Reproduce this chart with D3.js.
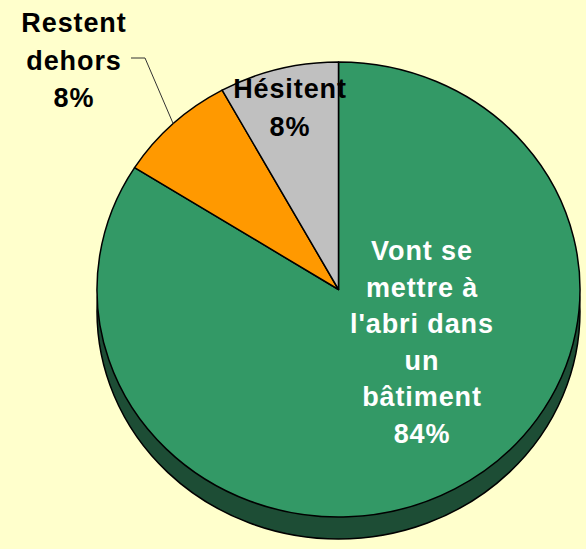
<!DOCTYPE html>
<html><head><meta charset="utf-8">
<script src="https://cdn.jsdelivr.net/npm/d3@7"></script>
<style>html,body{margin:0;padding:0;background:#FFFFCC;}svg{display:block;}</style>
</head><body>
<script>
const categories = ["Vont se mettre à l'abri dans un bâtiment", "Restent dehors", "Hésitent"];
const values = [84, 8, 8];
const labelLines = [["Vont se", "mettre à", "l'abri dans", "un", "bâtiment"], ["Restent", "dehors"], ["Hésitent"]];
const colors = ["#339966", "#FF9900", "#C0C0C0"];

const W = 586, H = 549;
const cx = 338.5, cy = 289.5, rx = 241.5, ry = 227.5, depth = 22;
const svg = d3.select("body").append("svg").attr("width", W).attr("height", H);
svg.append("rect").attr("width", W).attr("height", H).attr("fill", "#FFFFCC");

// side wall
svg.append("ellipse").attr("cx", cx).attr("cy", cy + depth).attr("rx", rx).attr("ry", ry)
  .attr("fill", "#1D4D35").attr("stroke", "#000").attr("stroke-width", 1.5);

const pie = d3.pie().sort(null).value(d => d)(values);
const arc = d3.arc().innerRadius(0).outerRadius(ry);
const g = svg.append("g").attr("transform", `translate(${cx},${cy}) scale(${rx / ry},1)`);
g.selectAll("path").data(pie).join("path")
  .attr("d", arc).attr("fill", (d, i) => colors[i])
  .attr("stroke", "#000").attr("stroke-width", 1.5).attr("vector-effect", "non-scaling-stroke")
  .attr("stroke-linejoin", "round");

// label layout (centre x, first baseline, line step, colour)
const layout = [
  {x: 422, y: 260, step: 36.5, fill: "#FFFFFF"},
  {x: 74, y: 32, step: 37.5, fill: "#000000"},
  {x: 290, y: 98, step: 38, fill: "#000000"}
];
values.forEach((v, i) => {
  const L = layout[i];
  const lines = labelLines[i].concat([v + "%"]);
  const t = svg.append("text").attr("text-anchor", "middle")
    .attr("font-family", "'Liberation Sans', Arial, sans-serif").attr("font-weight", "bold")
    .attr("font-size", 27).attr("letter-spacing", 0.9).attr("fill", L.fill);
  lines.forEach((s, k) => t.append("tspan").attr("x", L.x).attr("y", L.y + k * L.step).text(s));
});

// leader line for "Restent dehors"
const mid = (pie[1].startAngle + pie[1].endAngle) / 2;
const ex = cx + rx * Math.sin(mid), ey = cy - ry * Math.cos(mid);
svg.append("polyline")
  .attr("points", `131,58 145,58 ${ex.toFixed(1)},${ey.toFixed(1)}`)
  .attr("fill", "none").attr("stroke", "#333").attr("stroke-width", 1);
</script>
</body></html>
